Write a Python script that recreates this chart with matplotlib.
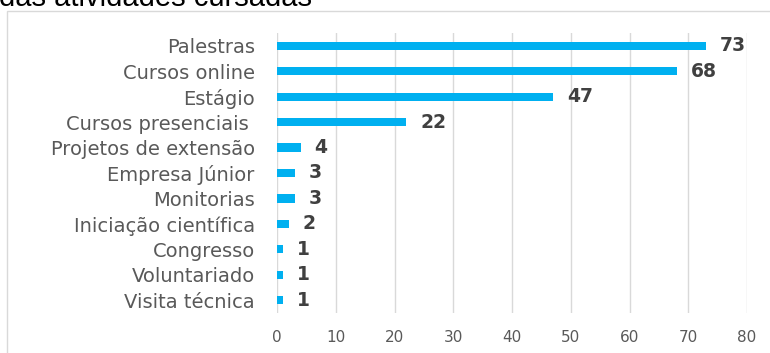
import matplotlib.pyplot as plt
from matplotlib.patches import Rectangle

categories = ["Palestras", "Cursos online", "Estágio", "Cursos presenciais ",
              "Projetos de extensão", "Empresa Júnior", "Monitorias",
              "Iniciação científica", "Congresso", "Voluntariado", "Visita técnica"]
values = [73, 68, 47, 22, 4, 3, 3, 2, 1, 1, 1]
xticks = [0, 10, 20, 30, 40, 50, 60, 70, 80]
title = "das atividades cursadas"

W, H = 770, 353
fig = plt.figure(figsize=(W / 100, H / 100), dpi=100)

# outer frame
fig.patches.append(Rectangle((7 / W, -0.1), 1.2, 1 - 11 / H + 0.1, transform=fig.transFigure,
                             fill=False, edgecolor="#d9d9d9", linewidth=1.0))
fig.text(-1 / W, 1 - 6 / H, title, fontsize=21, color="black", family="Liberation Sans",
         ha="left", va="baseline")

ax = fig.add_axes([277 / W, 1 - 313 / H, (747 - 277) / W, (313 - 33) / H])
y = list(range(len(categories)))
ax.barh(y, values, height=0.32, color="#00B0F0", zorder=3)
ax.set_ylim(len(categories) - 0.5, -0.5)
ax.set_xlim(0, 80)
ax.set_xticks(xticks)
ax.set_yticks(y)
ax.set_yticklabels(categories, fontsize=14, color="#595959")
ax.tick_params(axis="x", labelsize=11, labelcolor="#595959", length=0, pad=12)
ax.tick_params(axis="y", length=0, pad=16)
ax.grid(axis="x", color="#d9d9d9", linewidth=1, zorder=0)
for s in ax.spines.values():
    s.set_visible(False)
for yi, v in zip(y, values):
    ax.annotate(str(v), (v, yi), xytext=(10, 0), textcoords="offset points",
                ha="left", va="center", fontsize=13.5, fontweight="bold", color="#404040")

fig.savefig("out.png", dpi=100)
